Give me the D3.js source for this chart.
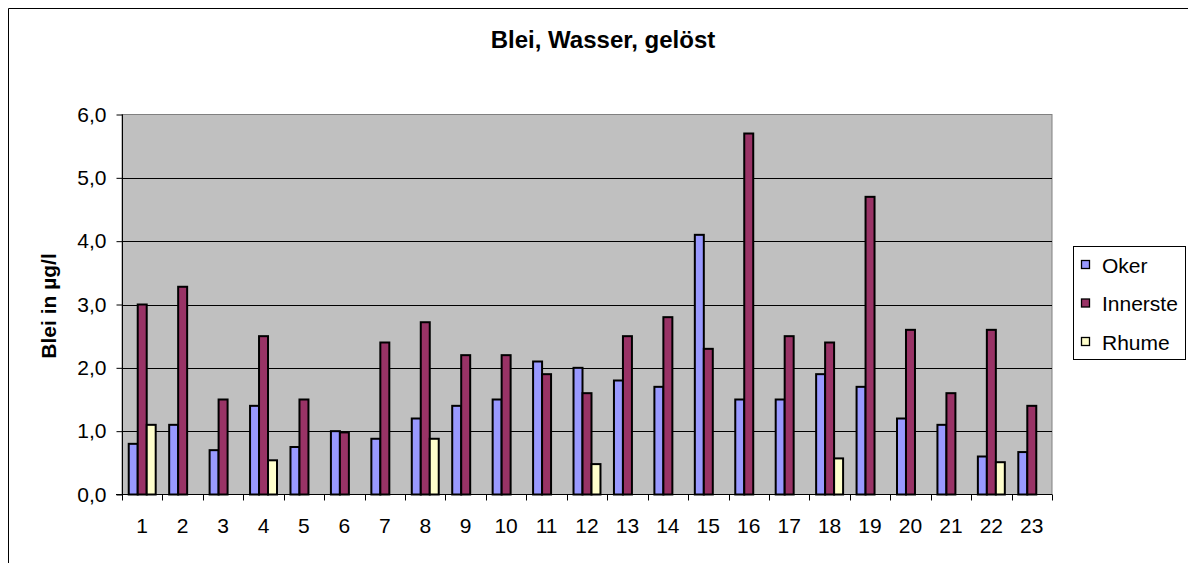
<!DOCTYPE html>
<html>
<head>
<meta charset="utf-8">
<script src="https://cdn.jsdelivr.net/npm/d3@7"></script>
<style>
  html, body { margin: 0; background: #fff; overflow: hidden; }
  svg { display: block; }
  svg text { font-family: "Liberation Sans", Arial, sans-serif; fill: #000; }
</style>
</head>
<body>
<div id="content"></div>
<script>
let width = 1188;
let height = 563;
let margin = ({top: 114, right: 136, bottom: 68, left: 122});

// Data
let categories = d3.range(1, 24).map(String);
let series = ["Oker", "Innerste", "Rhume"];
let oker = [0.8, 1.1, 0.7, 1.4, 0.75, 1.0, 0.88, 1.2, 1.4, 1.5, 2.1, 2.0, 1.8, 1.7, 4.1, 1.5, 1.5, 1.9, 1.7, 1.2, 1.1, 0.6, 0.67];
let innerste = [3.0, 3.28, 1.5, 2.5, 1.5, 0.98, 2.4, 2.72, 2.2, 2.2, 1.9, 1.6, 2.5, 2.8, 2.3, 5.7, 2.5, 2.4, 4.7, 2.6, 1.6, 2.6, 1.4];
let rhume = [1.1, null, null, 0.54, null, null, null, 0.88, null, null, null, 0.48, null, null, null, null, null, 0.57, null, null, null, 0.51, null];
let yTicks = [0, 1, 2, 3, 4, 5, 6];

let colors = d3.scaleOrdinal()
    .domain(series)
    .range(["#9999FF", "#993366", "#FFFFCC"]);

let values = {"Oker": oker, "Innerste": innerste, "Rhume": rhume};
let rows = categories.map(function(c, i) {
    return series.map(function(s) { return {cat: c, series: s, value: values[s][i]}; });
});

let svg = d3.select("#content")
    .append("svg")
    .attr("width", width)
    .attr("height", height);

// outer chart frame: only left and top edges are inside the picture
svg.append("path")
    .attr("d", "M8.5," + height + "V8.5H" + width)
    .attr("fill", "none")
    .attr("stroke", "#000");

let xScale = d3.scaleBand()
    .domain(categories)
    .range([margin.left, 1052]);

let xSub = d3.scaleBand()
    .domain(series)
    .range([0, xScale.bandwidth()])
    .paddingOuter(0.75);

let yScale = d3.scaleLinear()
    .domain([0, 6])
    .range([494.5, margin.top + 0.5]);

// plot area
svg.append("rect")
    .attr("x", margin.left)
    .attr("y", yScale(6))
    .attr("width", 1052 - margin.left)
    .attr("height", yScale(0) - yScale(6))
    .attr("fill", "#C0C0C0")
    .attr("stroke", "#808080");

// gridlines
svg.append("g")
    .selectAll("line")
    .data(yTicks.filter(function(d) { return d > 0 && d < 6; }))
    .enter().append("line")
    .attr("x1", margin.left).attr("x2", 1052)
    .attr("y1", function(d) { return Math.round(yScale(d)) + 0.5; })
    .attr("y2", function(d) { return Math.round(yScale(d)) + 0.5; })
    .attr("stroke", "#000");

// bars
svg.append("g")
    .selectAll("g")
    .data(rows)
    .enter().append("g")
    .attr("transform", function(d, i) { return "translate(" + xScale(categories[i]) + ",0)"; })
    .selectAll("rect")
    .data(function(d) { return d.filter(function(e) { return e.value != null; }); })
    .enter().append("rect")
    .attr("x", function(d) { return xSub(d.series); })
    .attr("y", function(d) { return yScale(d.value); })
    .attr("width", xSub.bandwidth())
    .attr("height", function(d) { return yScale(0) - yScale(d.value); })
    .attr("fill", function(d) { return colors(d.series); })
    .attr("stroke", "#000")
    .attr("stroke-width", 2);

// y axis
let yAxis = d3.axisLeft(yScale)
    .tickValues(yTicks)
    .tickSize(6)
    .tickPadding(10)
    .tickFormat(function(d) { return d3.format(".1f")(d).replace(".", ","); });

svg.append("g")
    .attr("class", "y axis")
    .attr("transform", "translate(" + (margin.left + 0.5) + ",0)")
    .call(yAxis)
    .call(function(g) {
        g.select(".domain").attr("stroke", "#000").attr("d", "M0," + yScale(6) + "V" + yScale(0));
        g.selectAll("line").attr("stroke", "#000");
        g.selectAll("text").attr("font-size", 21).attr("fill", "#000");
    });

// x axis with ticks between categories
let xAxisY = yScale(0);
let xg = svg.append("g").attr("class", "x axis");
xg.append("line")
    .attr("x1", margin.left - 6).attr("x2", 1052)
    .attr("y1", xAxisY).attr("y2", xAxisY)
    .attr("stroke", "#000");
xg.selectAll(".tick")
    .data(categories.concat(["end"]))
    .enter().append("line")
    .attr("x1", function(d, i) { return Math.round(margin.left + i * xScale.step()) + 0.5; })
    .attr("x2", function(d, i) { return Math.round(margin.left + i * xScale.step()) + 0.5; })
    .attr("y1", xAxisY).attr("y2", xAxisY + 6)
    .attr("stroke", "#000");
xg.selectAll("text")
    .data(categories)
    .enter().append("text")
    .attr("x", function(d) { return xScale(d) + xScale.bandwidth() / 2; })
    .attr("y", 533)
    .attr("text-anchor", "middle")
    .attr("font-size", 21)
    .text(function(d) { return d; });

// title
svg.append("text")
    .attr("x", 603)
    .attr("y", 48)
    .attr("text-anchor", "middle")
    .attr("font-size", 24)
    .attr("font-weight", "bold")
    .text("Blei, Wasser, gelöst");

// y axis title
svg.append("text")
    .attr("transform", "translate(56,306) rotate(-90)")
    .attr("text-anchor", "middle")
    .attr("font-size", 21)
    .attr("font-weight", "bold")
    .text("Blei in µg/l");

// legend
let legend = svg.append("g");
legend.append("rect")
    .attr("x", 1073.5).attr("y", 246.5)
    .attr("width", 112).attr("height", 113)
    .attr("fill", "#fff")
    .attr("stroke", "#000");

let items = legend.selectAll(".item")
    .data(series)
    .enter().append("g")
    .attr("class", "item")
    .attr("transform", function(d, i) { return "translate(0," + (265 + i * 38.5) + ")"; });

items.append("rect")
    .attr("x", 1081.5).attr("y", -4.5)
    .attr("width", 8).attr("height", 8)
    .attr("fill", function(d) { return colors(d); })
    .attr("stroke", "#000")
    .attr("stroke-width", 1.3);

items.append("text")
    .attr("x", 1102)
    .attr("y", 7.5)
    .attr("font-size", 21)
    .text(function(d) { return d; });
</script>
</body>
</html>
